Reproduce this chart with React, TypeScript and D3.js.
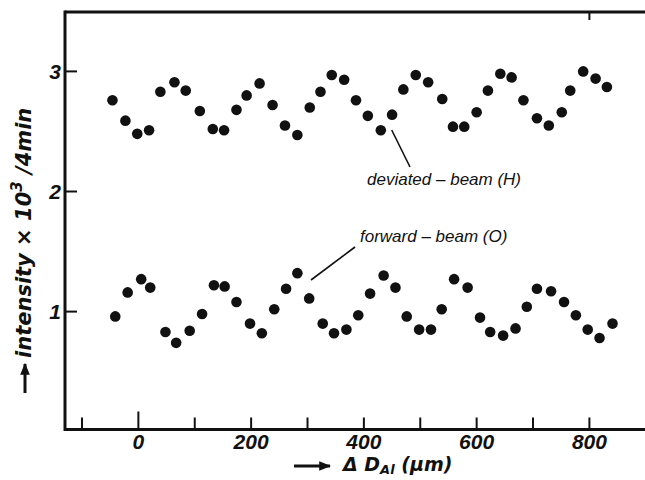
import React from 'react';
import * as d3 from 'd3';

const W = 645;
const H = 480;

// deviated-beam (H) : position ΔD_Al (µm) and intensity ×10^3 / 4 min
const deviatedX = [-46, -23, -2, 19, 39, 64, 84, 109, 132, 152, 174, 192, 215, 238, 260, 282, 304, 323, 343, 365, 386, 407, 430, 450, 470, 492, 514, 539, 558, 578, 600, 620, 642, 662, 683, 707, 728, 751, 766, 789, 811, 831];
const deviatedY = [2.76, 2.59, 2.48, 2.51, 2.83, 2.91, 2.84, 2.67, 2.52, 2.51, 2.68, 2.8, 2.9, 2.72, 2.55, 2.47, 2.7, 2.83, 2.97, 2.93, 2.76, 2.63, 2.51, 2.64, 2.85, 2.97, 2.91, 2.77, 2.54, 2.54, 2.66, 2.84, 2.98, 2.95, 2.76, 2.61, 2.55, 2.66, 2.84, 3.0, 2.94, 2.87];

// forward-beam (O)
const forwardX = [-41, -19, 5, 21, 48, 67, 91, 113, 134, 153, 174, 198, 219, 241, 262, 282, 303, 327, 347, 369, 390, 411, 435, 456, 476, 498, 519, 538, 560, 584, 606, 624, 647, 669, 689, 707, 732, 755, 776, 797, 818, 841];
const forwardY = [0.96, 1.16, 1.27, 1.2, 0.83, 0.74, 0.84, 0.98, 1.22, 1.21, 1.08, 0.9, 0.82, 1.02, 1.19, 1.32, 1.11, 0.9, 0.82, 0.85, 0.97, 1.15, 1.3, 1.2, 0.96, 0.85, 0.85, 1.02, 1.27, 1.2, 0.95, 0.83, 0.8, 0.86, 1.04, 1.19, 1.17, 1.08, 0.97, 0.85, 0.78, 0.9];

const xTickValues = [-100, 0, 100, 200, 300, 400, 500, 600, 700, 800];
const xTickLabels = [0, 200, 400, 600, 800];
const xTopTicks = [800];
const yTickValues = [1, 2, 3];

const numFont = "'Liberation Sans', Arial, sans-serif";
const titleFont = "'DejaVu Sans', sans-serif";

export default function App() {
  const x = d3.scaleLinear().domain([-100, 800]).range([82, 589.4]);
  const y = d3.scaleLinear().domain([0, 3]).range([431.7, 71.4]);

  const leftX = 65;
  const topY = 12;
  const bottomY = 429.5;
  const ink = '#111';

  const devPts = deviatedX.map((d, i) => [x(d), y(deviatedY[i])]);
  const fwdPts = forwardX.map((d, i) => [x(d), y(forwardY[i])]);

  return (
    <svg width={W} height={H} style={{ position: 'absolute', left: 0, top: 0, background: '#fff' }}>
      <defs>
        <marker id="ah" viewBox="0 0 10 10" refX="9" refY="5" markerWidth="4" markerHeight="4" orient="auto" markerUnits="strokeWidth">
          <path d="M0,1 L10,5 L0,9 Z" fill={ink} />
        </marker>
      </defs>
      <rect x={0} y={0} width={W} height={H} fill="#fff" />

      {/* frame */}
      <line x1={leftX} y1={topY} x2={W} y2={topY} stroke={ink} strokeWidth={3} />
      <line x1={leftX} y1={topY - 1.5} x2={leftX} y2={bottomY + 1.5} stroke={ink} strokeWidth={3} />
      <line x1={leftX} y1={bottomY} x2={W} y2={bottomY} stroke={ink} strokeWidth={3} />

      {/* x ticks */}
      {xTickValues.map((v) => (
        <line key={'xt' + v} x1={x(v)} x2={x(v)} y1={bottomY} y2={bottomY - (v === 0 ? 18 : 12)} stroke={ink} strokeWidth={2} />
      ))}
      {xTopTicks.map((v) => (
        <line key={'xtt' + v} x1={x(v)} x2={x(v)} y1={topY} y2={topY + 8} stroke={ink} strokeWidth={2} />
      ))}
      {xTickLabels.map((v) => (
        <text key={'xl' + v} x={x(v)} y={449} textAnchor="middle" fontFamily={numFont} fontStyle="italic" fontWeight="bold" fontSize={21} fill={ink}>
          {v}
        </text>
      ))}

      {/* y ticks */}
      {yTickValues.map((v) => (
        <line key={'yt' + v} x1={leftX} x2={leftX + 12} y1={y(v)} y2={y(v)} stroke={ink} strokeWidth={2} />
      ))}
      {yTickValues.map((v) => (
        <text key={'yl' + v} x={61} y={y(v) + 7.5} textAnchor="end" fontFamily={numFont} fontStyle="italic" fontWeight="bold" fontSize={21} fill={ink}>
          {v}
        </text>
      ))}

      {/* y title */}
      <line x1={25} y1={393} x2={25} y2={364} stroke={ink} strokeWidth={3} markerEnd="url(#ah)" />
      <text transform="translate(31,358) rotate(-90)" fontFamily={titleFont} fontStyle="italic" fontWeight="bold" fontSize={21} fill={ink}>
        intensity × 10
        <tspan dy={-9} fontSize={15}>3</tspan>
        <tspan dy={9}> /4min</tspan>
      </text>

      {/* x title */}
      <line x1={294} y1={466} x2={330} y2={466} stroke={ink} strokeWidth={3} markerEnd="url(#ah)" />
      <text x={343} y={471} fontFamily={titleFont} fontStyle="italic" fontWeight="bold" fontSize={19} fill={ink}>
        Δ D
        <tspan dy={3} fontSize={13}>Al</tspan>
        <tspan dy={-3}> (μm)</tspan>
      </text>

      {/* points */}
      {devPts.map((p, i) => (
        <circle key={'d' + i} cx={p[0]} cy={p[1]} r={5.3} fill={ink} />
      ))}
      {fwdPts.map((p, i) => (
        <circle key={'f' + i} cx={p[0]} cy={p[1]} r={5.3} fill={ink} />
      ))}

      {/* annotations */}
      <line x1={391.7} y1={130} x2={410} y2={167} stroke={ink} strokeWidth={1.6} />
      <text x={367} y={185} fontFamily={numFont} fontStyle="italic" fontSize={17} fill={ink}>
        deviated – beam (H)
      </text>
      <line x1={311} y1={280} x2={355} y2={247} stroke={ink} strokeWidth={1.6} />
      <text x={360} y={242} fontFamily={numFont} fontStyle="italic" fontSize={17} fill={ink}>
        forward – beam (O)
      </text>
    </svg>
  );
}
